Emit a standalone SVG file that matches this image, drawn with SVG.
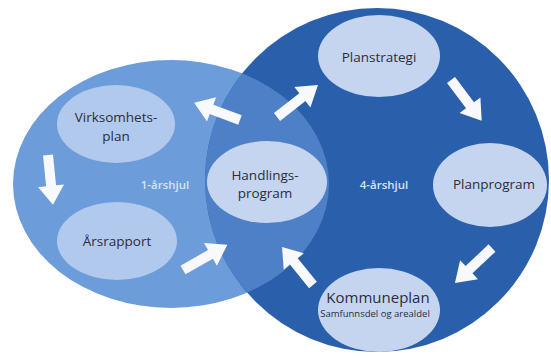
<svg xmlns="http://www.w3.org/2000/svg" width="551" height="359" viewBox="0 0 551 359">
<style>
.lbl{font-family:"Open Sans","Liberation Sans",sans-serif;font-size:13.5px;fill:#2b2d3c;text-anchor:middle}
.small{font-size:9.5px}
.wheel{font-family:"Open Sans","Liberation Sans",sans-serif;font-size:11.5px;font-weight:600;fill:#d6e3f5;text-anchor:middle}
.nd{fill:#c5d5ef}
.ndl{fill:#b2c9ee}
.arr{fill:#f7f9fd}
</style>
<defs>
<clipPath id="darkClip"><circle cx="377" cy="180" r="172"/></clipPath>
<path id="ar" d="M0,-5 L31,-5 L31,-13 L50,0 L31,13 L31,5 L0,5 Z"/>
</defs>
<rect width="551" height="359" fill="#ffffff"/>
<g id="wheels">
<ellipse id="wheel1" cx="171" cy="184" rx="158" ry="124" fill="#6c9cd9"/>
<circle id="wheel4" cx="377" cy="180" r="172" fill="#2a60ab"/>
<ellipse id="overlap" cx="171" cy="184" rx="158" ry="124" fill="#4d80c6" clip-path="url(#darkClip)"/>
<text class="wheel" x="165" y="189">1-årshjul</text>
<text class="wheel" x="384" y="189">4-årshjul</text>
</g>
<g id="connectors" class="arr">
<use href="#ar" transform="translate(240,120) rotate(200.6) scale(0.98,1)"/>
<use href="#ar" transform="translate(277,117) rotate(-38) scale(1.04,1)"/>
<use href="#ar" transform="translate(451,80) rotate(53) scale(1.02,1)"/>
<use href="#ar" transform="translate(492,248) rotate(136.6) scale(1.02,1)"/>
<use href="#ar" transform="translate(313,285) rotate(230.8) scale(0.98,1)"/>
<use href="#ar" transform="translate(183,270) rotate(-29.6) scale(1.02,1)"/>
<use href="#ar" transform="translate(48,155) rotate(84.3) scale(1,1)"/>
</g>
<g id="virksomhetsplan">
<ellipse class="ndl" cx="116" cy="124" rx="59" ry="39"/>
<text class="lbl" x="116" y="122">Virksomhets-</text>
<text class="lbl" x="116" y="141">plan</text>
</g>
<g id="arsrapport">
<ellipse class="ndl" cx="117" cy="241" rx="60" ry="39"/>
<text class="lbl" x="117" y="246">Årsrapport</text>
</g>
<g id="handlingsprogram">
<ellipse class="nd" cx="267" cy="182" rx="60" ry="41"/>
<text class="lbl" x="265" y="180">Handlings-</text>
<text class="lbl" x="265" y="198">program</text>
</g>
<g id="planstrategi">
<ellipse class="nd" cx="379" cy="56" rx="61" ry="41"/>
<text class="lbl" x="379" y="62">Planstrategi</text>
</g>
<g id="planprogram">
<ellipse class="nd" cx="490" cy="185" rx="57" ry="42"/>
<text class="lbl" x="494" y="189">Planprogram</text>
</g>
<g id="kommuneplan">
<ellipse class="nd" cx="379" cy="310" rx="61" ry="42"/>
<text class="lbl" x="378" y="303" style="font-size:15px">Kommuneplan</text>
<text class="lbl small" x="375" y="317">Samfunnsdel og arealdel</text>
</g>
</svg>
